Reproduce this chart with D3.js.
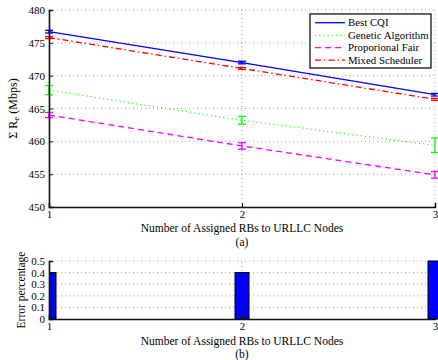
<!DOCTYPE html>
<html><head><meta charset="utf-8">
<script src="https://cdn.jsdelivr.net/npm/d3@7"></script>
<style>body{margin:0;background:#fff}svg{display:block}svg text{font-family:'Liberation Serif','Times New Roman',Times,serif !important;fill:#000}</style>
</head><body><svg id="c" width="438" height="360" font-family="Liberation Serif"></svg>
<script>
const xValues = [1, 2, 3];
const seriesNames = ["Best CQI", "Genetic Algorithm", "Proporional Fair", "Mixed Scheduler"];
const bestCQI = [476.7, 472.0, 467.1];
const bestCQIErr = [0.2, 0.2, 0.2];
const genetic = [467.8, 463.2, 459.4];
const geneticErr = [0.7, 0.6, 1.1];
const propFair = [464.0, 459.3, 454.9];
const propFairErr = [0.4, 0.5, 0.5];
const mixed = [475.8, 471.1, 466.4];
const mixedErr = [0.15, 0.15, 0.15];
const errorPct = [0.4, 0.4, 0.5];
const yTicksTop = [450, 455, 460, 465, 470, 475, 480];
const yTicksBottom = [0, 0.1, 0.2, 0.3, 0.4, 0.5];

const FONT = "'Liberation Serif','Times New Roman',Times,serif";
const svg = d3.select("#c");
const x = d3.scaleLinear().domain([1, 3]).range([49, 435]);
const yT = d3.scaleLinear().domain([450, 480]).range([207, 10]);
const yB = d3.scaleLinear().domain([0, 0.5]).range([319, 261]);

const styles = [
  {color: "#0000ff", dash: null, w: 1.3},
  {color: "#00ff00", dash: "1.2,3", w: 1.1},
  {color: "#ff00ff", dash: "6,4", w: 1.3},
  {color: "#ff0000", dash: "6,3,1.5,3", w: 1.3}
];
const series = [
  {vals: bestCQI, err: bestCQIErr},
  {vals: genetic, err: geneticErr},
  {vals: propFair, err: propFairErr},
  {vals: mixed, err: mixedErr}
];

function grid(g, y, ticks) {
  ticks.forEach(t => {
    g.append("line").attr("x1", x(1)).attr("x2", x(3)).attr("y1", y(t)).attr("y2", y(t))
      .attr("stroke", "#888").attr("stroke-width", 0.8).attr("stroke-dasharray", "1,3");
  });
  xValues.forEach(v => {
    g.append("line").attr("x1", x(v)).attr("x2", x(v)).attr("y1", y.range()[0]).attr("y2", y.range()[1])
      .attr("stroke", "#888").attr("stroke-width", 0.8).attr("stroke-dasharray", "1,3");
  });
}

// ---------- top chart
const gT = svg.append("g");
grid(gT, yT, yTicksTop);

const lineGen = d3.line().x((d, i) => x(xValues[i])).y(d => yT(d));
series.forEach((s, k) => {
  const st = styles[k];
  gT.append("path").datum(s.vals).attr("d", lineGen).attr("fill", "none")
    .attr("stroke", st.color).attr("stroke-width", st.w).attr("stroke-dasharray", st.dash);
  s.vals.forEach((v, i) => {
    const cx = x(xValues[i]), y1 = yT(v - s.err[i]), y2 = yT(v + s.err[i]);
    const eg = gT.append("g").attr("stroke", st.color).attr("stroke-width", 1.3);
    eg.append("line").attr("x1", cx).attr("x2", cx).attr("y1", y1).attr("y2", y2);
    eg.append("line").attr("x1", cx - 4).attr("x2", cx + 4).attr("y1", y1).attr("y2", y1);
    eg.append("line").attr("x1", cx - 4).attr("x2", cx + 4).attr("y1", y2).attr("y2", y2);
  });
});

function styleAxis(a) {
  a.attr("font-family", FONT).attr("font-size", 11);
  a.select(".domain").attr("stroke-width", 1.6).attr("stroke", "#111");
  a.selectAll("text").attr("font-family", FONT).style("font-size", "11px");
  a.selectAll(".tick line").attr("stroke", "#111");
}

const axLT = gT.append("g").attr("transform", `translate(${x(1)},0)`)
  .call(d3.axisLeft(yT).tickValues(yTicksTop).tickSize(-4).tickPadding(4));
const axBT = gT.append("g").attr("transform", `translate(0,${yT(450)})`)
  .call(d3.axisBottom(x).tickValues(xValues).tickSize(-4).tickPadding(5).tickFormat(d3.format("d")));
styleAxis(axLT); styleAxis(axBT);
axBT.selectAll("text").attr("dy", "0.55em");

function txt(sel) { return sel.attr("font-family", FONT); }

// Y label top
txt(svg.append("text")).attr("transform", `translate(17,${yT(465)}) rotate(-90)`).attr("text-anchor", "middle")
  .style("font-size", "12px")
  .call(t => {
    t.append("tspan").text("\u03A3 R");
    t.append("tspan").attr("baseline-shift", "-25%").style("font-size", "9px").text("e");
    t.append("tspan").text(" (Mbps)");
  });
txt(svg.append("text")).attr("x", x(2)).attr("y", 232).attr("text-anchor", "middle").style("font-size", "11.5px")
  .text("Number of Assigned RBs to URLLC Nodes");
txt(svg.append("text")).attr("x", x(2)).attr("y", 246).attr("text-anchor", "middle").style("font-size", "11.5px").text("(a)");

// legend
const lg = svg.append("g");
lg.append("rect").attr("x", 310).attr("y", 14).attr("width", 121).attr("height", 54)
  .attr("fill", "#fff").attr("stroke", "#000").attr("stroke-width", 1.2);
seriesNames.forEach((n, k) => {
  const yy = 22.7 + k * 12.5;
  const st = styles[k];
  lg.append("line").attr("x1", 315).attr("x2", 345).attr("y1", yy).attr("y2", yy)
    .attr("stroke", st.color).attr("stroke-width", st.w).attr("stroke-dasharray", st.dash);
  txt(lg.append("text")).attr("x", 348).attr("y", yy).attr("dy", "0.35em").style("font-size", "10.8px").text(n);
});

// ---------- bottom chart
const gB = svg.append("g");
grid(gB, yB, yTicksBottom.filter(t => t > 0));
svg.append("defs").append("clipPath").attr("id", "clipB").append("rect")
  .attr("x", x(1)).attr("y", 240).attr("width", 400).attr("height", 90);
const barW = 14;
gB.append("g").attr("clip-path", "url(#clipB)").selectAll("rect").data(errorPct).join("rect")
  .attr("x", (d, i) => x(xValues[i]) - barW / 2).attr("width", barW)
  .attr("y", d => yB(d)).attr("height", d => yB(0) - yB(d))
  .attr("fill", "#0000ff").attr("stroke", "#000").attr("stroke-width", 1);

const axLB = gB.append("g").attr("transform", `translate(${x(1)},0)`)
  .call(d3.axisLeft(yB).tickValues(yTicksBottom).tickSize(-4).tickPadding(4).tickFormat(d => d === 0 ? "0" : d3.format(".1f")(d)));
const axBB = gB.append("g").attr("transform", `translate(0,${yB(0)})`)
  .call(d3.axisBottom(x).tickValues(xValues).tickSize(-4).tickPadding(5).tickFormat(d3.format("d")));
styleAxis(axLB); styleAxis(axBB);
axBB.selectAll("text").attr("dy", "0.55em");

txt(svg.append("text")).attr("transform", `translate(25,290) rotate(-90)`).attr("text-anchor", "middle")
  .style("font-size", "11.5px").text("Error percentage");
txt(svg.append("text")).attr("x", x(2)).attr("y", 345).attr("text-anchor", "middle").style("font-size", "11.5px")
  .text("Number of Assigned RBs to URLLC Nodes");
txt(svg.append("text")).attr("x", x(2)).attr("y", 358).attr("text-anchor", "middle").style("font-size", "11.5px").text("(b)");
</script></body></html>
